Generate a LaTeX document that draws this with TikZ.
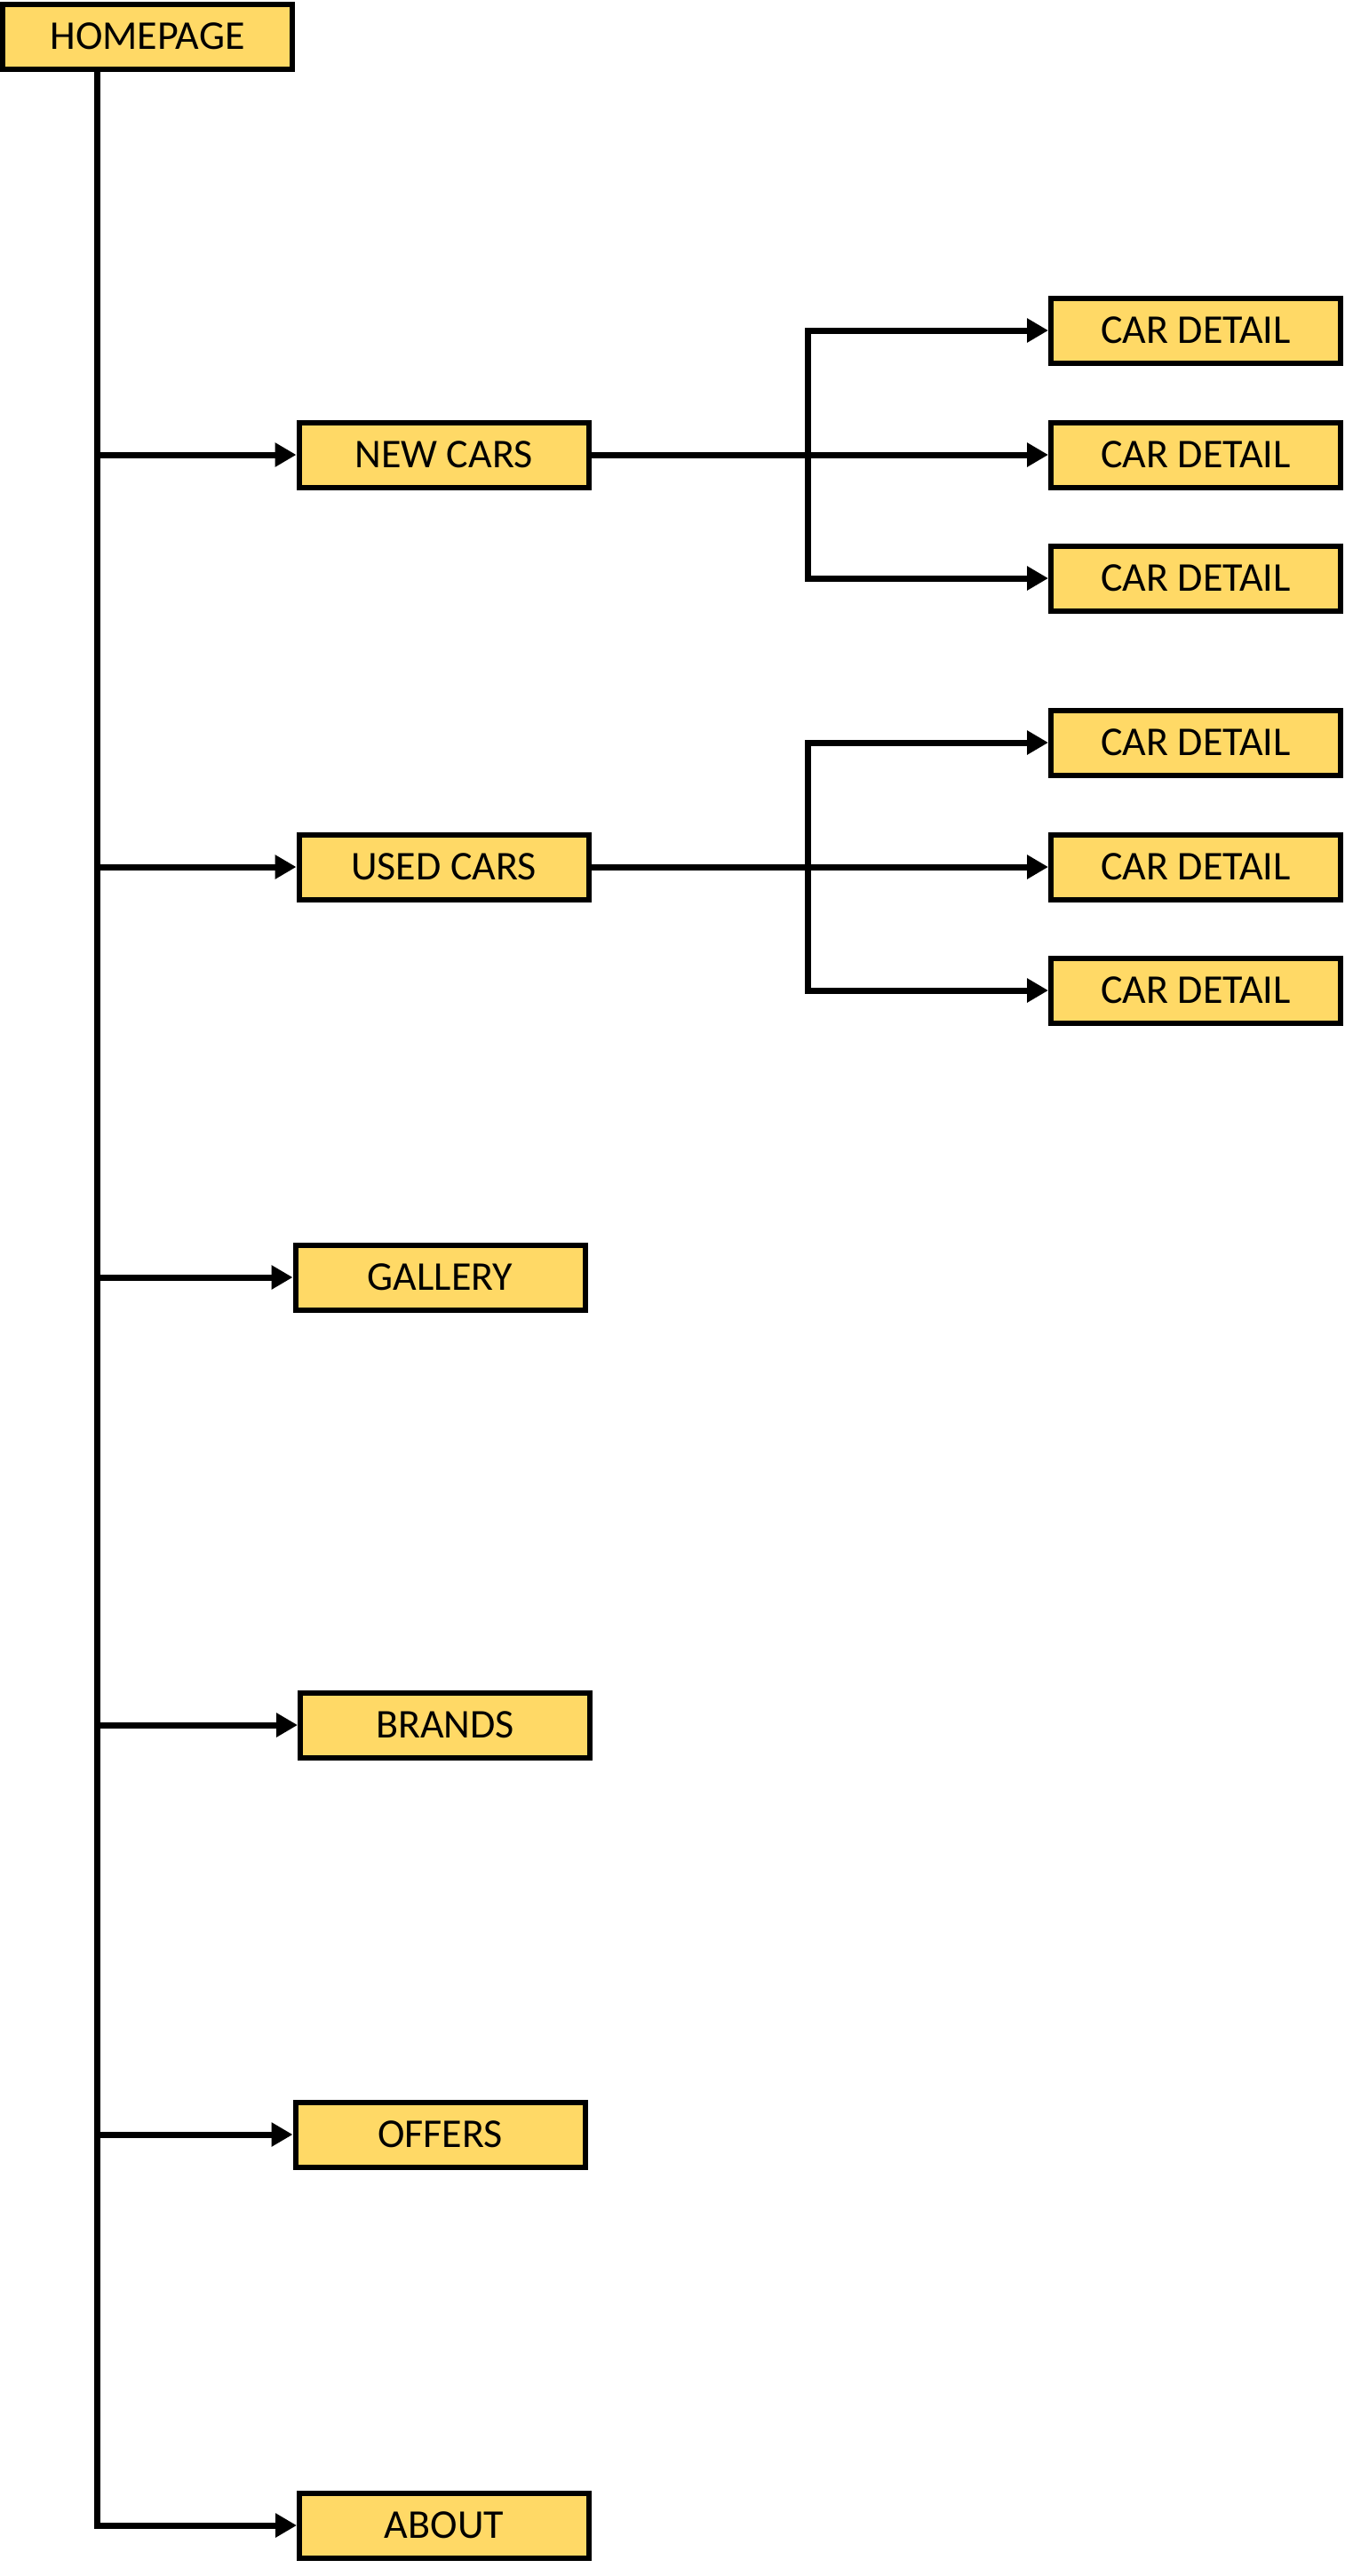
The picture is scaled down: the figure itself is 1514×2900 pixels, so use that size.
\documentclass[tikz,border=0pt]{standalone}
\usepackage{fontspec}
\setmainfont{Carlito}
\usetikzlibrary{arrows.meta}
\definecolor{boxfill}{HTML}{FFD966}
\tikzset{
  box/.style={draw=black, fill=boxfill, line width=6pt, minimum width=326pt, minimum height=73pt,
    inner sep=0pt, font=\fontsize{46}{55}\selectfont},
  arr/.style={line width=7pt, -{Triangle[length=24pt,width=26pt]}}
}
\begin{document}
\begin{tikzpicture}[x=1pt,y=-1pt]
\useasboundingbox (0,0) rectangle (1514,2900);
\node[box] (home) at (166,41) {HOMEPAGE};
\node[box] (newcars) at (499.5,512) {NEW CARS};
\node[box] (usedcars) at (499.5,976) {USED CARS};
\node[box] (gallery) at (495.5,1438) {GALLERY};
\node[box] (brands) at (501,1942) {BRANDS};
\node[box] (offers) at (495.5,2403) {OFFERS};
\node[box] (about) at (500,2843) {ABOUT};
\node[box] (cd1) at (1346,372) {CAR DETAIL};
\node[box] (cd2) at (1346,512) {CAR DETAIL};
\node[box] (cd3) at (1346,651) {CAR DETAIL};
\node[box] (cd4) at (1346,836) {CAR DETAIL};
\node[box] (cd5) at (1346,976) {CAR DETAIL};
\node[box] (cd6) at (1346,1115) {CAR DETAIL};
\coordinate (tx) at (109,0);
\coordinate (jx) at (909,0);
% trunk
\draw[arr] (tx |- home.south) |- (about.west);
\draw[arr] (tx |- newcars) -- (newcars.west);
\draw[arr] (tx |- usedcars) -- (usedcars.west);
\draw[arr] (tx |- gallery) -- (gallery.west);
\draw[arr] (tx |- brands) -- (brands.west);
\draw[arr] (tx |- offers) -- (offers.west);
% new cars branch
\draw[arr] (newcars.east) -- (cd2.west);
\draw[arr] (jx |- newcars) |- (cd1.west);
\draw[arr] (jx |- newcars) |- (cd3.west);
% used cars branch
\draw[arr] (usedcars.east) -- (cd5.west);
\draw[arr] (jx |- usedcars) |- (cd4.west);
\draw[arr] (jx |- usedcars) |- (cd6.west);
\end{tikzpicture}
\end{document}
